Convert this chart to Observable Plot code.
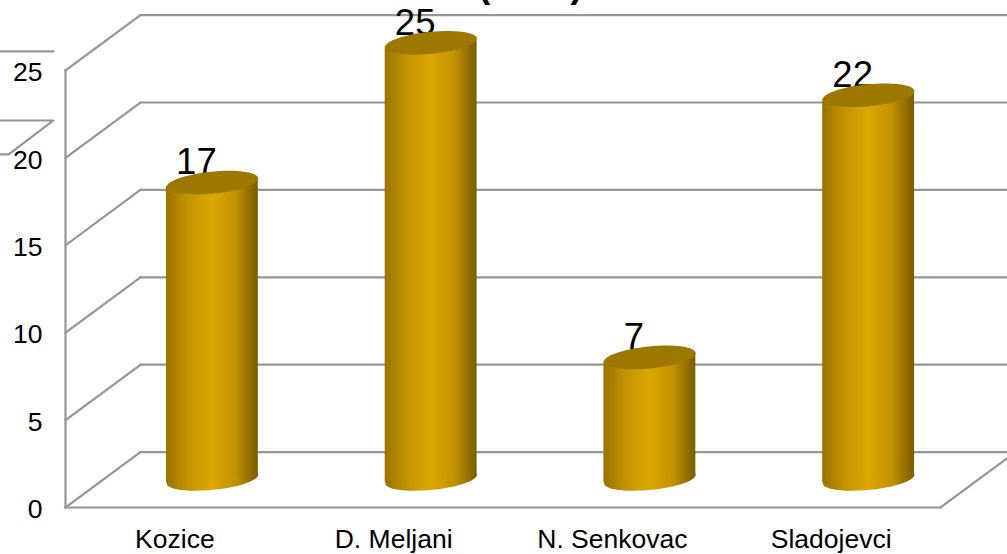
<!DOCTYPE html>
<html>
<head>
<meta charset="utf-8">
<script src="https://cdn.jsdelivr.net/npm/d3@7"></script>
<script src="https://cdn.jsdelivr.net/npm/@observablehq/plot@0.6"></script>
<style>
html,body{margin:0;padding:0;background:#fff;overflow:hidden}
#chart svg{display:block;background:#fff}
</style>
</head>
<body>
<svg width="0" height="0" style="position:absolute">
  <defs>
    <linearGradient id="cyl" x1="0" x2="1" y1="0" y2="0">
      <stop offset="0" stop-color="#9a7300"/>
      <stop offset="0.25" stop-color="#c49400"/>
      <stop offset="0.5" stop-color="#dca700"/>
      <stop offset="0.75" stop-color="#c29200"/>
      <stop offset="1" stop-color="#7a5c00"/>
    </linearGradient>
  </defs>
</svg>
<div id="chart"></div>
<script>
const categories = ["Kozice", "D. Meljani", "N. Senkovac", "Sladojevci"];
const values = [17, 25, 7, 22];
const gridValues = [0, 5, 10, 15, 20, 25];

// stray wall fragments at the left edge, in data units
const strayA = [[-0.8, 26.09], [-0.555, 26.09]];
const strayB = [[-0.8, 22.14], [-0.555, 22.14], [-0.76, 20.2], [-0.8, 20.2]];

// perspective, in data units
const depthX = 0.343, depthY = 3.17;
const cylR = 0.21, slant = 0.225;
const lineColor = "#969696";
const font = "'Liberation Sans', Arial, sans-serif";

const rows = categories.map((c, i) => ({c, i, v: values[i]}));
const cx = d => d.i + depthX / 2;
const bodyPts = rows.flatMap(d => [
  {i: d.i, x: cx(d) - cylR, y1: depthY / 2 - slant + 0.05, y2: d.v + depthY / 2 - slant},
  {i: d.i, x: cx(d) + cylR, y1: depthY / 2 + slant + 0.05, y2: d.v + depthY / 2 + slant}
]);

const ellipse = {
  draw(ctx) {
    const rx = 46, ry = 11, t = -5.6 * Math.PI / 180, k = 0.5523;
    const p = (x, y) => [x * Math.cos(t) - y * Math.sin(t), x * Math.sin(t) + y * Math.cos(t)];
    ctx.moveTo(...p(-rx, 0));
    ctx.bezierCurveTo(...p(-rx, -k * ry), ...p(-k * rx, -ry), ...p(0, -ry));
    ctx.bezierCurveTo(...p(k * rx, -ry), ...p(rx, -k * ry), ...p(rx, 0));
    ctx.bezierCurveTo(...p(rx, k * ry), ...p(k * rx, ry), ...p(0, ry));
    ctx.bezierCurveTo(...p(-k * rx, ry), ...p(-rx, k * ry), ...p(-rx, 0));
    ctx.closePath();
  }
};

const gridStyle = {stroke: lineColor, strokeWidth: 2.2, strokeLinecap: "square"};

const plot = Plot.plot({
  width: 1007,
  height: 554,
  marginLeft: 65,
  marginRight: 67,
  marginTop: 70,
  marginBottom: 47,
  style: {fontFamily: font, background: "#fff", overflow: "hidden"},
  x: {domain: [-0.5, 3.5], axis: null},
  y: {domain: [0, 25], axis: null},
  marks: [
    // title, clipped by the top edge: only the parentheses show
    Plot.text(["(\u2007\u2007\u2007\u2007)"], {
      x: () => 1.625, y: () => 29.2, text: d => d,
      fontSize: 36, fontWeight: "bold", fill: "#000", lineAnchor: "bottom", frameAnchor: null
    }),
    // back wall
    Plot.link(gridValues, {x1: () => -0.5 + depthX, x2: () => 3.5 + depthX, y1: d => d + depthY, y2: d => d + depthY, ...gridStyle}),
    // side wall diagonals
    Plot.link(gridValues, {x1: () => -0.5, x2: () => -0.5 + depthX, y1: d => d, y2: d => d + depthY, ...gridStyle}),
    // floor right diagonal
    Plot.link([0], {x1: () => 3.5, x2: () => 3.5 + depthX, y1: d => d, y2: d => d + depthY, ...gridStyle}),
    // front left axis and floor
    Plot.ruleX([-0.5], {y1: 0, y2: 25, ...gridStyle}),
    Plot.ruleY([0], {x1: -0.5, x2: 3.5, ...gridStyle}),
    // stray fragments
    Plot.line(strayA, {x: d => d[0], y: d => d[1], stroke: lineColor, strokeWidth: 2.2}),
    Plot.line(strayB, {x: d => d[0], y: d => d[1], stroke: lineColor, strokeWidth: 2.2, curve: "linear"}),
    // axes
    Plot.axisY({ticks: gridValues, tickSize: 0, tickPadding: 23, fontSize: 26.5, anchor: "left", label: null, dy: 2.2, fill: "#000"}),
    Plot.axisX({ticks: [0, 1, 2, 3], tickFormat: i => categories[i], tickSize: 0, tickPadding: 22, fontSize: 26.5, anchor: "bottom", label: null, fill: "#000"}),
    // value labels sit behind the cylinders
    Plot.text(rows, {x: d => d.i, y: d => d.v, text: d => String(d.v), fontSize: 36.5, fill: "#000", lineAnchor: "bottom", dx: 21.5, dy: -36}),
    // cylinders
    Plot.dot(rows, {x: cx, y: () => depthY / 2 + 0.05, r: 10, symbol: ellipse, fill: "url(#cyl)", stroke: "none"}),
    Plot.areaY(bodyPts, {x: "x", y1: "y1", y2: "y2", z: "i", fill: "url(#cyl)", curve: "linear"}),
    Plot.dot(rows, {x: cx, y: d => d.v + depthY / 2, r: 10, symbol: ellipse, fill: "#9c7800", stroke: "none"})
  ]
});
document.getElementById("chart").append(plot);
</script>
</body>
</html>
